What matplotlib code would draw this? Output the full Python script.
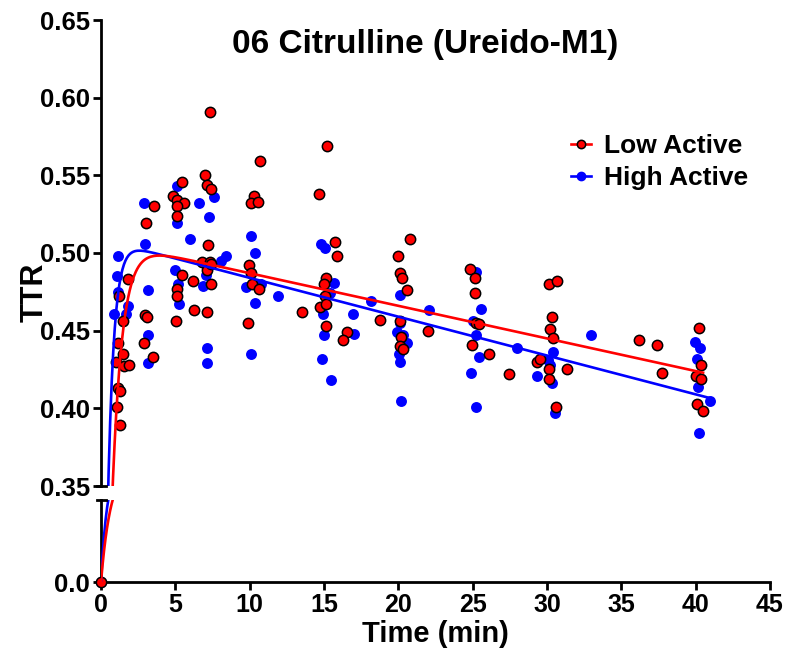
import numpy as np
import matplotlib
matplotlib.use("Agg")
import matplotlib.pyplot as plt

plt.rcParams['font.family'] = ['Liberation Sans', 'DejaVu Sans']
plt.rcParams['font.weight'] = 'bold'

# --- data (time in min, TTR) ---
low_t = [0.0,
         1.80, 1.21, 1.48, 2.96, 3.07, 1.12, 2.91, 1.50, 0.99, 1.57, 1.88, 3.52,
         1.12, 1.30, 1.08, 1.28, 3.00, 3.58,
         7.35, 10.69, 5.43, 7.01, 7.11, 7.40, 4.86, 5.09, 5.58, 5.09, 5.13,
         10.29, 10.07, 10.58, 7.20, 6.77, 7.33, 7.11, 7.40, 9.97, 10.07, 10.15,
         10.65, 5.43, 6.21, 5.09, 5.13, 7.38, 6.27, 7.11, 5.02, 9.91,
         15.18, 14.68, 15.74, 15.85, 15.13, 15.02, 15.06, 14.73, 15.13, 13.50,
         15.13, 16.56, 16.25,
         20.80, 19.95, 20.11, 20.22, 20.60, 18.76, 20.11, 20.17, 20.11, 20.33, 22.01,
         24.82, 25.15, 25.15, 25.22, 25.44, 24.97, 26.09, 27.42,
         30.13, 30.67, 30.35, 30.19, 30.38, 29.30, 29.52, 30.13, 31.32, 30.15, 30.60,
         36.16, 37.41, 37.75, 40.24, 40.33, 40.01, 40.35, 40.10, 40.50]
low_y = [0.0,
         0.483, 0.472, 0.456, 0.460, 0.459, 0.442, 0.442, 0.435, 0.430, 0.427, 0.428, 0.433,
         0.413, 0.411, 0.401, 0.389, 0.519, 0.530,
         0.591, 0.559, 0.546, 0.550, 0.544, 0.541, 0.537, 0.534, 0.532, 0.530, 0.524,
         0.537, 0.532, 0.533, 0.505, 0.494, 0.494, 0.489, 0.493, 0.492, 0.487, 0.480,
         0.477, 0.486, 0.482, 0.477, 0.472, 0.480, 0.463, 0.462, 0.456, 0.455,
         0.569, 0.538, 0.507, 0.498, 0.484, 0.480, 0.472, 0.465, 0.467, 0.462,
         0.453, 0.449, 0.444,
         0.509, 0.498, 0.487, 0.484, 0.476, 0.457, 0.456, 0.446, 0.440, 0.438, 0.450,
         0.490, 0.484, 0.474, 0.455, 0.454, 0.441, 0.435, 0.422,
         0.480, 0.482, 0.459, 0.451, 0.445, 0.430, 0.432, 0.425, 0.425, 0.419, 0.401,
         0.444, 0.441, 0.423, 0.452, 0.428, 0.421, 0.419, 0.403, 0.398]

high_t = [0.0,
          2.89, 1.12, 2.96, 1.06, 1.12, 1.84, 0.89, 1.66, 3.18, 3.18, 3.18,
          5.11, 6.61, 7.62, 7.24, 5.13, 5.99, 10.07, 10.36, 8.41, 8.05, 4.98, 5.20,
          7.06, 6.84, 9.75, 10.36, 5.27, 7.15, 7.15, 10.07, 10.74, 11.88,
          14.77, 15.06, 15.67, 15.40, 14.95, 16.97, 17.01, 15.02, 14.86, 15.45,
          20.11, 18.14, 22.08, 20.11, 19.89, 20.33, 20.56, 20.06, 20.11, 20.17,
          25.20, 25.54, 25.00, 25.20, 25.40, 24.86, 25.22, 28.00, 29.34,
          30.38, 30.08, 30.31, 30.53, 30.19, 32.95,
          39.95, 40.31, 40.10, 40.38, 40.13, 40.96, 40.22]
high_y = [0.0,
          0.532, 0.498, 0.506, 0.485, 0.475, 0.466, 0.461, 0.461, 0.476, 0.447, 0.429,
          0.543, 0.532, 0.536, 0.523, 0.519, 0.509, 0.511, 0.500, 0.498, 0.495, 0.489, 0.480,
          0.486, 0.479, 0.478, 0.468, 0.467, 0.439, 0.429, 0.435, 0.480, 0.472,
          0.506, 0.503, 0.481, 0.474, 0.461, 0.461, 0.448, 0.447, 0.432, 0.418,
          0.473, 0.469, 0.463, 0.455, 0.449, 0.447, 0.442, 0.435, 0.430, 0.405,
          0.488, 0.464, 0.456, 0.447, 0.433, 0.423, 0.401, 0.439, 0.421,
          0.436, 0.431, 0.416, 0.397, 0.428, 0.447,
          0.443, 0.439, 0.432, 0.419, 0.414, 0.405, 0.384]

# fitted curve parameters: plateau, rate, slope, last time
low_fit = [0.508, 1.5, -0.0021, 40.5]
high_fit = [0.509, 2.4, -0.0025, 41.0]

x_ticks = [0, 5, 10, 15, 20, 25, 30, 35, 40, 45]
y_ticks_top = [0.35, 0.40, 0.45, 0.50, 0.55, 0.60, 0.65]

RED = '#ff0000'
BLUE = '#0000ff'


def fit_curve(p):
    t = np.linspace(0, p[3], 400)
    return t, p[0] * (1 - np.exp(-p[1] * t)) + p[2] * t


fig = plt.figure(figsize=(7.88, 6.55), dpi=100)
W, H = 788, 655
left, right = 101 / W, 770 / W
ax = fig.add_axes([left, 1 - 486 / H, right - left, (486 - 20) / H])
axb = fig.add_axes([left, 1 - 582 / H, right - left, (582 - 500) / H])

lt, ly = fit_curve(low_fit)
ht, hy = fit_curve(high_fit)

for a, lo, hi in ((ax, 0.35, 0.65), (axb, 0.0, 0.35)):
    hm = [(t, y) for t, y in zip(high_t, high_y) if lo <= y <= hi]
    lm = [(t, y) for t, y in zip(low_t, low_y) if lo <= y <= hi]
    if hm:
        a.scatter(*zip(*hm), s=62, color=BLUE, linewidths=0, zorder=3, clip_on=False)
    if lm:
        a.scatter(*zip(*lm), s=55, facecolor=RED, edgecolor='black', linewidths=1.1,
                  zorder=4, clip_on=False)
    a.plot(ht, hy, color=BLUE, lw=1.9, zorder=5)
    a.plot(lt, ly, color=RED, lw=1.9, zorder=5)
    a.set_xlim(0, 45)
    for s in ('top', 'right'):
        a.spines[s].set_visible(False)
    a.spines['left'].set_linewidth(2)
    a.spines['bottom'].set_linewidth(2)
    a.tick_params(width=2, length=6, labelsize=18.5, pad=2)

ax.set_ylim(0.35, 0.65)
ax.set_yticks(y_ticks_top)
ax.set_yticklabels([f'{v:.2f}' for v in y_ticks_top])
ax.spines['bottom'].set_visible(False)
ax.set_xticks([])

axb.set_ylim(0, 0.35)
axb.set_yticks([0])
axb.set_yticklabels(['0.0'])
axb.set_xticks(x_ticks)
axb.set_xticklabels([str(v) for v in x_ticks])
axb.tick_params(axis='x', labelsize=18)

# break caps on the y axis
for a, yy in ((ax, 0), (axb, 1)):
    a.plot([-0.006, 0.008], [yy, yy], transform=a.transAxes, color='black',
           lw=2, clip_on=False, zorder=6)

fig.text(425 / W, 1 - 45 / H, '06 Citrulline (Ureido-M1)', fontsize=24,
         fontweight='bold', ha='center', va='center')
axb.set_xlabel('Time (min)', fontsize=21, fontweight='bold', labelpad=2)
fig.text(35 / W, 1 - 292 / H, 'TTR', rotation=90, fontsize=22, fontweight='bold',
         ha='center', va='center')

hl = ax.plot([], [], color=RED, lw=1.9, marker='o', ms=6, mfc=RED, mec='black',
             mew=1.1, label='Low Active')[0]
hh = ax.plot([], [], color=BLUE, lw=1.9, marker='o', ms=6, mfc=BLUE, mec=BLUE,
             label='High Active')[0]
ax.legend(handles=[hl, hh], loc='upper right', bbox_to_anchor=(0.983, 0.778),
          frameon=False, fontsize=19, handlelength=0.75, handletextpad=0.5,
          labelspacing=0.3, borderaxespad=0)

fig.savefig('out.png', dpi=100)
